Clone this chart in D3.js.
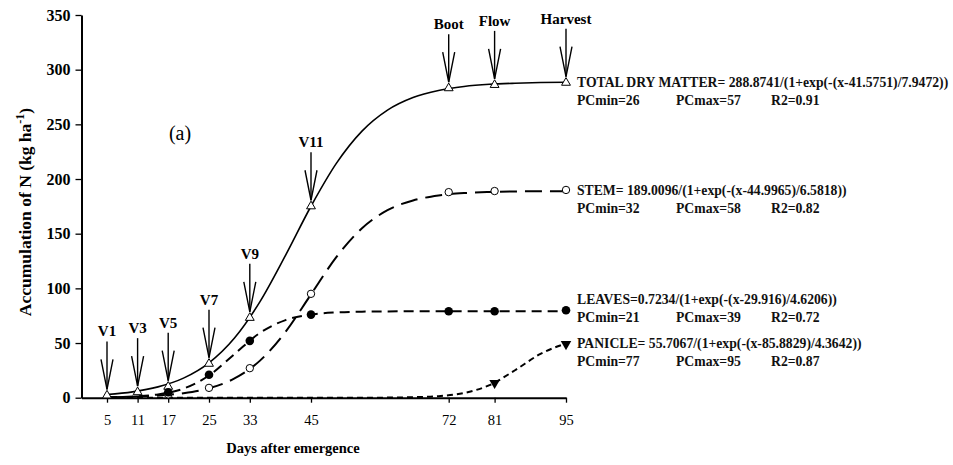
<!DOCTYPE html>
<html>
<head>
<meta charset="utf-8">
<script src="https://cdn.jsdelivr.net/npm/d3@7"></script>
<style>
  body{margin:0;background:#fff;}
  svg{display:block;font-family:"Liberation Serif","Times New Roman",serif;}
</style>
</head>
<body>
<svg id="chart" width="953" height="465"></svg>
<script>
const width = 953;
const height = 465;

// growth stages (x ticks) and their labels
const stageDays = [5, 11, 17, 25, 33, 45, 72, 81, 95];
const stageLabels = ['V1', 'V3', 'V5', 'V7', 'V9', 'V11', 'Boot', 'Flow', 'Harvest'];
const yTicks = [0, 50, 100, 150, 200, 250, 300, 350];

// observed points
const totalObs = [3, 6, 11, 32, 74, 176, 284, 287, 289];
const stemDays = [17, 25, 33, 45, 72, 81, 95];
const stemObs = [3, 9, 27, 95, 188, 189, 190];
const leavesDays = [17, 25, 33, 45, 72, 81, 95];
const leavesObs = [5, 21, 52, 76, 79, 79, 80];
const panicleDays = [81, 95];
const panicleObs = [13.5, 49];

// fitted curves, every 5 days
const curveDays = [5, 10, 15, 20, 25, 30, 35, 40, 45, 50, 55, 60, 65, 70, 75, 80, 85, 90, 95];
const totalFit = [2.9, 5.3, 9.9, 17.9, 31.9, 54.6, 87.9, 130.2, 175.1, 214.5, 243.8, 263.0, 274.5, 281.0, 284.6, 286.6, 287.6, 288.2, 288.5];
const stemFit = [0.4, 0.9, 2.0, 4.1, 8.6, 17.6, 33.9, 60.2, 94.5, 128.8, 155.0, 171.5, 180.4, 184.9, 187.1, 188.1, 188.6, 188.8, 188.9];
const leavesFit = [0.4, 1.1, 3.0, 8.3, 20.3, 39.9, 59.3, 71.0, 76.1, 78.0, 78.7, 78.9, 79, 79, 79, 79, 79, 79, 79];
const panicleFit = [0, 0, 0, 0, 0, 0, 0, 0, 0, 0, 0, 0.1, 0.5, 1.4, 4.3, 11.5, 25.1, 40.1, 49.6];

// equation annotations
const eqLabels = [
  'TOTAL DRY MATTER= 288.8741/(1+exp(-(x-41.5751)/7.9472))',
  'STEM= 189.0096/(1+exp(-(x-44.9965)/6.5818))',
  'LEAVES=0.7234/(1+exp(-(x-29.916)/4.6206))',
  'PANICLE= 55.7067/(1+exp(-(x-85.8829)/4.3642))'
];
const eqPCmin = ['PCmin=26', 'PCmin=32', 'PCmin=21', 'PCmin=77'];
const eqPCmax = ['PCmax=57', 'PCmax=58', 'PCmax=39', 'PCmax=95'];
const eqR2 = ['R2=0.91', 'R2=0.82', 'R2=0.72', 'R2=0.87'];
const eqY = [83, 191, 300, 344];

const svg = d3.select('#chart');
const x = d3.scaleLinear().domain([0, 95]).range([81.5, 566]);
const y = d3.scaleLinear().domain([0, 350]).range([397.7, 15]);

// axes
const yAxis = svg.append('g').attr('transform', 'translate(81.5,0)')
  .call(d3.axisLeft(y).tickValues(yTicks).tickSize(6).tickSizeOuter(0).tickPadding(5));
yAxis.selectAll('text').attr('font-size', 16).attr('font-weight', 'bold').attr('font-family', 'Liberation Serif').attr('fill', '#000');
const xAxis = svg.append('g').attr('transform', 'translate(0,397.7)')
  .call(d3.axisBottom(x).tickValues(stageDays).tickSize(5).tickSizeOuter(0).tickPadding(12));
xAxis.selectAll('text').attr('font-size', 14.5).attr('font-family', 'Liberation Serif').attr('fill', '#000');
svg.selectAll('.domain').attr('stroke', '#000').attr('stroke-width', 2);
svg.selectAll('.tick line').attr('stroke', '#000').attr('stroke-width', 1.3);

svg.append('text').attr('x', 293).attr('y', 453).attr('text-anchor', 'middle')
  .attr('font-size', 14.5).attr('font-weight', 'bold').text('Days after emergence');

const yt = svg.append('text').attr('transform', 'translate(31,212) rotate(-90)')
  .attr('text-anchor', 'middle').attr('font-size', 17.5).attr('font-weight', 'bold');
yt.append('tspan').text('Accumulation of N (kg ha');
yt.append('tspan').attr('dy', -7).attr('font-size', 12).text('-1');
yt.append('tspan').attr('dy', 7).text(')');

svg.append('text').attr('x', 180).attr('y', 140).attr('text-anchor', 'middle')
  .attr('font-size', 20).text('(a)');

// fitted curves
const line = d3.line().x(d => x(d[0])).y(d => y(d[1])).curve(d3.curveMonotoneX);
const curves = [
  {vals: totalFit, dash: null},
  {vals: stemFit, dash: '17,8'},
  {vals: leavesFit, dash: '10,6'},
  {vals: panicleFit, dash: '6,4'}
];
curves.forEach(c => {
  svg.append('path').datum(curveDays.map((d, i) => [d, c.vals[i]]))
    .attr('d', line).attr('fill', 'none').attr('stroke', '#000')
    .attr('stroke-width', c.dash ? 2 : 1.6)
    .attr('stroke-dasharray', c.dash);
});

// markers
const tri = d3.symbol().type(d3.symbolTriangle).size(34);
svg.selectAll('.tot').data(stageDays).enter().append('path')
  .attr('transform', (d, i) => `translate(${x(d)},${y(totalObs[i]) + 1})`)
  .attr('d', tri).attr('fill', '#fff').attr('stroke', '#000').attr('stroke-width', 1);
svg.selectAll('.stem').data(stemDays).enter().append('circle')
  .attr('cx', d => x(d)).attr('cy', (d, i) => y(stemObs[i]))
  .attr('r', 3.7).attr('fill', '#fff').attr('stroke', '#000').attr('stroke-width', 1);
svg.selectAll('.leaf').data(leavesDays).enter().append('circle')
  .attr('cx', d => x(d)).attr('cy', (d, i) => y(leavesObs[i]))
  .attr('r', 4.3).attr('fill', '#000');
svg.selectAll('.pan').data(panicleDays).enter().append('path')
  .attr('transform', (d, i) => `translate(${x(d)},${y(panicleObs[i])}) rotate(180)`)
  .attr('d', d3.symbol().type(d3.symbolTriangle).size(48)).attr('fill', '#000');

// stage arrows
stageDays.forEach((d, i) => {
  const tip = y(totalObs[i]) - 5;
  const top = tip - 48;
  const g = svg.append('g').attr('stroke', '#000').attr('stroke-width', 1.4).attr('fill', 'none');
  g.append('line').attr('x1', x(d)).attr('x2', x(d)).attr('y1', top).attr('y2', tip);
  g.append('path').attr('d', `M${x(d) - 6},${tip - 30}L${x(d)},${tip}L${x(d) + 6},${tip - 30}`);
  svg.append('text').attr('x', x(d)).attr('y', top - 5).attr('text-anchor', 'middle')
    .attr('font-size', 15).attr('font-weight', 'bold').text(stageLabels[i]);
});

// equation text
const eq = svg.append('g').attr('font-size', 13.7).attr('font-weight', 'bold').attr('fill', '#111');
eqLabels.forEach((t, i) => {
  eq.append('text').attr('x', 577).attr('y', eqY[i] + 4).text(t);
  eq.append('text').attr('x', 577).attr('y', eqY[i] + 22).text(eqPCmin[i]);
  eq.append('text').attr('x', 676).attr('y', eqY[i] + 22).text(eqPCmax[i]);
  eq.append('text').attr('x', 771).attr('y', eqY[i] + 22).text(eqR2[i]);
});
</script>
</body>
</html>
